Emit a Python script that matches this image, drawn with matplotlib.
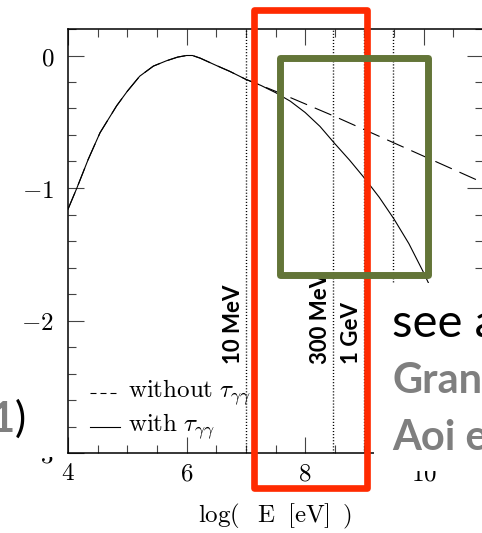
import matplotlib
matplotlib.use('Agg')
import matplotlib.pyplot as plt
from matplotlib.patches import Rectangle

plt.rcParams['mathtext.fontset'] = 'cm'
plt.rcParams['lines.scale_dashes'] = False

W, H = 482, 533

# log10 E [eV] vs log flux, with and without gamma-gamma absorption
logE_with = [4.0, 4.15, 4.34, 4.54, 4.82, 5.0, 5.21, 5.44, 5.66, 5.85, 6.0, 6.1,
             6.23, 6.5, 6.73, 7.0, 7.25, 7.5, 7.75, 8.0, 8.25, 8.5, 8.75, 9.0,
             9.25, 9.5, 9.75, 10.0, 10.25, 10.5]
flux_with = [-1.16, -1.0, -0.785, -0.583, -0.38, -0.27, -0.156, -0.08, -0.04, -0.012, 0.0, 0.0,
             -0.02, -0.075, -0.12, -0.18, -0.225, -0.28, -0.345, -0.43, -0.535, -0.665, -0.79, -0.925,
             -1.07, -1.235, -1.42, -1.64, -1.88, -2.15]

logE_without = [4.0, 4.15, 4.34, 4.54, 4.82, 5.0, 5.21, 5.44, 5.66, 5.85, 6.0, 6.1,
                6.23, 6.5, 6.73, 7.0, 7.5, 8.0, 8.5, 9.0, 9.5, 10.0, 10.5, 11.0]
flux_without = [-1.16, -1.0, -0.785, -0.583, -0.38, -0.27, -0.156, -0.08, -0.04, -0.012, 0.0, 0.0,
                -0.02, -0.075, -0.12, -0.18, -0.27, -0.365, -0.46, -0.56, -0.66, -0.76, -0.86, -0.96]

# reference energies
mark_logE = [7.0, 8.477, 9.0, 9.477]
mark_names = ['10 MeV', '300 MeV', '1 GeV', '']

xticks = [4, 6, 8, 10]
xticklabels = ['$4$', '$6$', '$8$', '$10$']
yticks = [-3, -2, -1, 0]
yticklabels = ['$-3$', '$-2$', '$-1$', '$0$']


def fig_box(x0, y0, x1, y1, **kw):
    # rectangle given in image pixels (origin top-left)
    return Rectangle((x0 / W, 1 - y1 / H), (x1 - x0) / W, (y1 - y0) / H,
                     transform=fig.transFigure, **kw)


fig = plt.figure(figsize=(W / 100, H / 100), dpi=100)
ax = fig.add_axes([68 / W, 80 / H, 415 / W, 424 / H])

ax.plot(logE_with, flux_with, color='k', lw=0.8)
ax.plot(logE_without, flux_without, color='k', lw=0.8, linestyle=(0, (13, 6)))

for xe, name in zip(mark_logE, mark_names):
    ax.axvline(xe, color='k', lw=1.0, linestyle=(0, (0.8, 1.4)))
    if name:
        ax.annotate(name, xy=(xe, -2.33), xytext=(-1.5, 0), textcoords='offset points',
                    rotation=90, ha='right', va='bottom', fontsize=16,
                    family='Lato', weight='bold')

ax.set_xlim(4, 11)
ax.set_ylim(-3, 0.2)
ax.set_xticks(xticks)
ax.set_xticklabels(xticklabels)
ax.set_xticks([4 + 0.5 * i for i in range(15)], minor=True)
ax.set_yticks(yticks)
ax.set_yticklabels(yticklabels)
ax.set_yticks([-3 + 0.2 * i for i in range(17)], minor=True)
ax.tick_params(which='both', direction='in', top=True, right=True, width=0.8,
               color='#444444', labelsize=18)
ax.tick_params(which='major', length=11.5)
ax.tick_params(which='minor', length=5.5)
ax.tick_params(axis='x', pad=6)
ax.tick_params(axis='y', pad=10)
for sp in ax.spines.values():
    sp.set_linewidth(1.1)
ax.set_xlabel(r'$\mathrm{log(\;\;\;E\;\;[eV]\;\;)}$', fontsize=18, labelpad=12)

# legend
ax.plot([0.053, 0.125], [0.141, 0.141], transform=ax.transAxes, color='k', lw=0.8,
        linestyle=(0, (4.3, 2.9)))
ax.plot([0.053, 0.125], [0.061, 0.061], transform=ax.transAxes, color='k', lw=0.8)
ax.text(0.145, 0.132, r'$\mathrm{without}\ \tau_{\gamma\gamma}$', transform=ax.transAxes,
        fontsize=18, va='baseline')
ax.text(0.145, 0.053, r'$\mathrm{with}\ \tau_{\gamma\gamma}$', transform=ax.transAxes,
        fontsize=18, va='baseline')

# slide overlays
fig.add_artist(fig_box(374, 283, 490, 471, facecolor='white', edgecolor='none', zorder=5))
fig.add_artist(fig_box(-5, 340, 60, 457, facecolor='white', edgecolor='none', zorder=5))
fig.add_artist(fig_box(253.7, 10, 366.5, 487.5, fill=False, edgecolor='#FF2A00', lw=4.8,
                       joinstyle='round', zorder=7))
fig.add_artist(fig_box(280, 58, 428.3, 275, fill=False, edgecolor='#637538', lw=5.0,
                       joinstyle='round', zorder=7))

fig.text(392 / W, 1 - 337 / H, 'see also', fontsize=34, family='Lato', color='k',
         va='baseline', zorder=8)
fig.text(392 / W, 1 - 393 / H, 'Granot', fontsize=30, family='Lato', weight='bold',
         color='#7F7F7F', va='baseline', zorder=8)
fig.text(392 / W, 1 - 450 / H, 'Aoi et al.', fontsize=30, family='Lato', weight='bold',
         color='#7F7F7F', va='baseline', zorder=8)
fig.text(14 / W, 1 - 432 / H, '1', fontsize=30, family='Lato', weight='bold',
         color='#7F7F7F', va='baseline', ha='right', zorder=8)
fig.text(15 / W, 1 - 432 / H, ')', fontsize=30, family='Lato', color='k',
         va='baseline', ha='left', zorder=8)

fig.savefig('out.png', dpi=100)
